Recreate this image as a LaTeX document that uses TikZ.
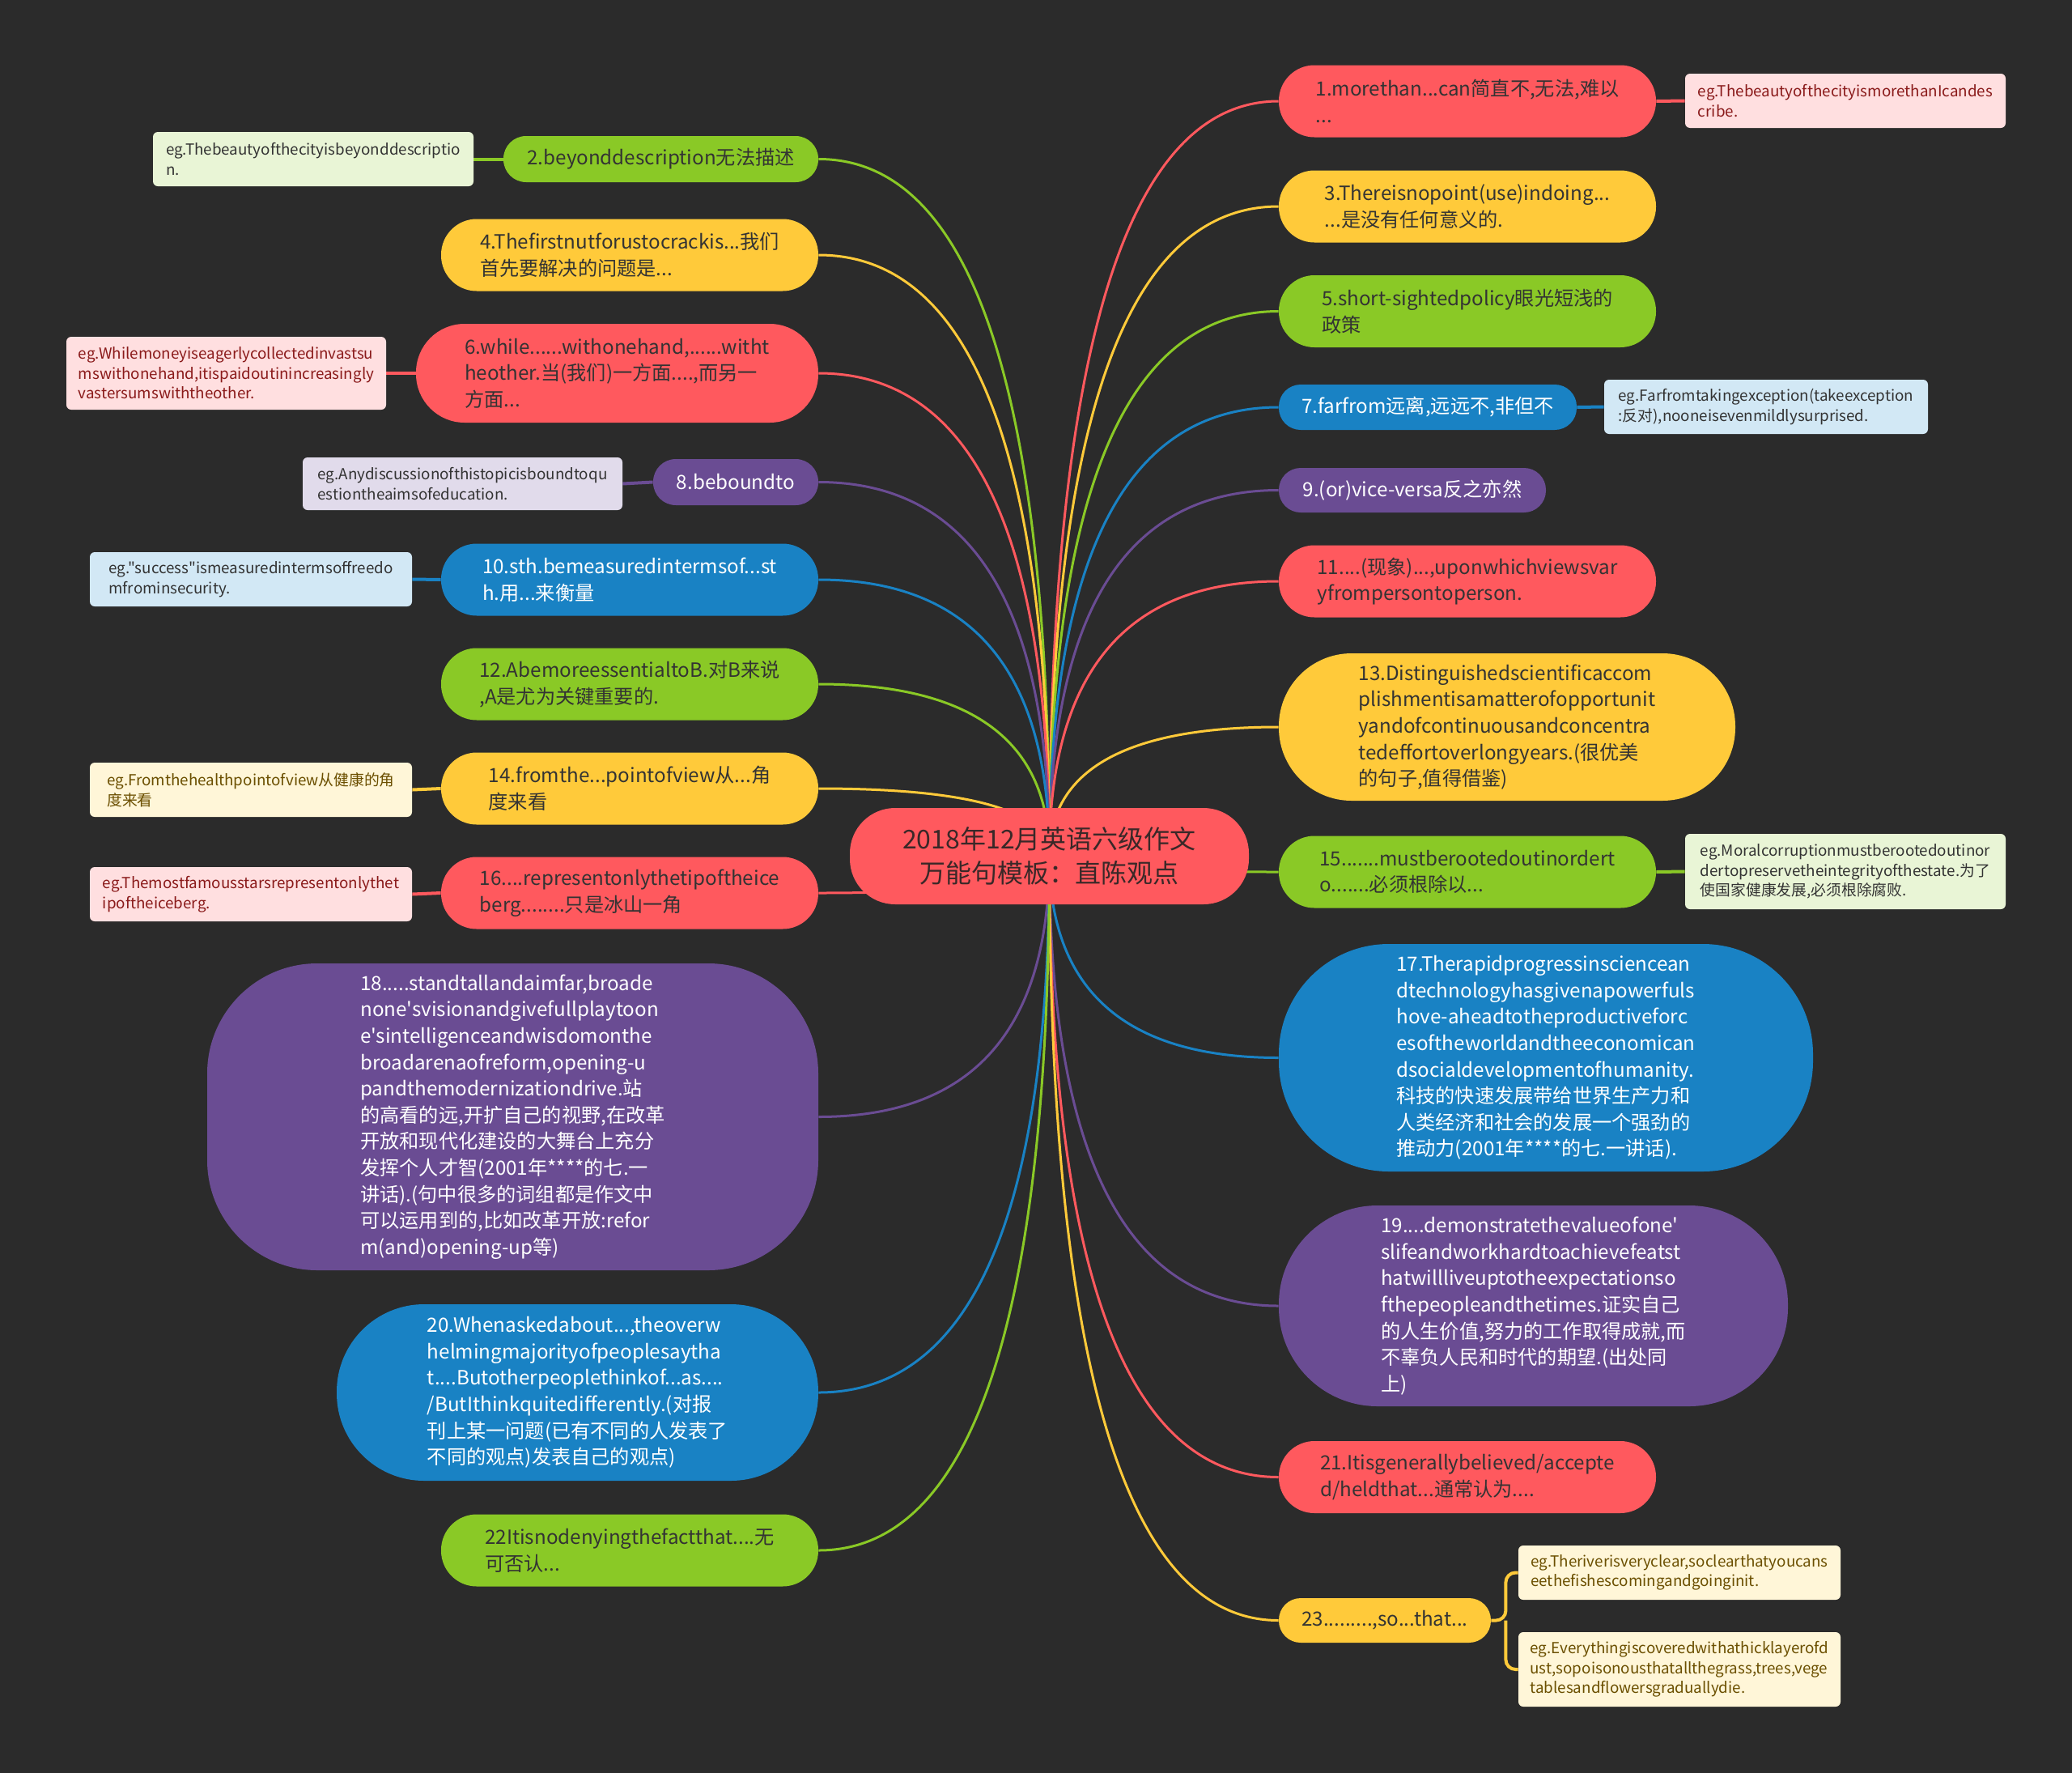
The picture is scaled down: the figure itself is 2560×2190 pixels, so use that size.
\documentclass[tikz,border=0pt]{standalone}
\usepackage{fontspec}
\newfontfamily\nf{Noto Sans CJK SC}
\usetikzlibrary{calc}
\pgfdeclarelayer{background}
\pgfsetlayers{background,main}
\definecolor{bg}{HTML}{2B2B2B}
\definecolor{cred}{HTML}{FF595E}
\definecolor{cyel}{HTML}{FFCA3A}
\definecolor{cgrn}{HTML}{8AC926}
\definecolor{cblu}{HTML}{1982C4}
\definecolor{cpur}{HTML}{6A4C93}
\definecolor{ered}{HTML}{FFDFE0}
\definecolor{egrn}{HTML}{E9F5D6}
\definecolor{eyel}{HTML}{FFF6D8}
\definecolor{eblu}{HTML}{D2E8F5}
\definecolor{epur}{HTML}{E1DBEB}
\definecolor{tdark}{HTML}{333333}
\definecolor{tctr}{HTML}{3A2828}
\definecolor{tred}{HTML}{8A1A1A}
\definecolor{tbrn}{HTML}{6B4F00}
\newcommand\mmlink[3]{%
  \coordinate (q) at (ctr.center |- #2.#3);
  \draw[link,#1] (ctr.center) .. controls ($(ctr.center)!0.667!(q)$) and ($(#2.#3)!0.667!(q)$) .. (#2.#3);}
\tikzset{
  mn/.style={inner sep=0pt, align=left, font=\nf\fontsize{12.1}{16.3}\selectfont},
  std/.style={mn, minimum width=233pt, minimum height=44.5pt, rounded corners=22pt},
  rn/.style={fill=cred, text=tdark},
  yn/.style={fill=cyel, text=tdark},
  gn/.style={fill=cgrn, text=tdark},
  bn/.style={fill=cblu, text=white},
  pn/.style={fill=cpur, text=white},
  egbox/.style={inner sep=0pt, align=left, rounded corners=3pt, minimum width=198pt, minimum height=33.5pt, font=\nf\fontsize{9.4}{12.3}\selectfont},
  epink/.style={egbox, fill=ered, text=tred},
  egreen/.style={egbox, fill=egrn, text=tdark},
  eyellow/.style={egbox, fill=eyel, text=tbrn},
  eblue/.style={egbox, fill=eblu, text=tdark},
  epurple/.style={egbox, fill=epur, text=tdark},
  link/.style={line width=1.5pt},
  eglink/.style={line width=2pt},
}
\begin{document}
\begin{tikzpicture}[x=0.5pt,y=-0.5pt]
\useasboundingbox (0,0) rectangle (2560,2190);
\begin{pgfonlayer}{background}
\fill[bg] (0,0) rectangle (2560,2190);
\end{pgfonlayer}

% central topic
\node[mn, align=center, fill=cred, text=tctr, minimum width=246.5pt, minimum height=59.5pt, rounded corners=28pt, font=\nf\fontsize{16}{21}\selectfont] (ctr) at (1296.5,1057.5) {2018年12月英语六级作文\\万能句模板：直陈观点};

% right side
\node[std,rn] (n1) at (1813,125) {1.morethan...can简直不,无法,难以\\...};
\node[std,yn] (n3) at (1813,255) {3.Thereisnopoint(use)indoing...\\...是没有任何意义的.};
\node[std,gn] (n5) at (1813,384.5) {5.short-sightedpolicy眼光短浅的\\政策};
\node[mn,bn,minimum width=184pt,minimum height=28pt,rounded corners=13.5pt] (n7) at (1764,503) {7.farfrom远离,远远不,非但不};
\node[mn,pn,minimum width=165pt,minimum height=27.5pt,rounded corners=13.5pt] (n9) at (1745,605.5) {9.(or)vice-versa反之亦然};
\node[std,rn] (n11) at (1813,718) {11....(现象)...,uponwhichviewsvar\\yfrompersontoperson.};
\node[mn,yn,minimum width=282pt,minimum height=91pt,rounded corners=45pt] (n13) at (1862,898) {13.Distinguishedscientificaccom\\plishmentisamatterofopportunit\\yandofcontinuousandconcentra\\tedeffortoverlongyears.(很优美\\的句子,值得借鉴)};
\node[std,gn] (n15) at (1813,1077) {15.......mustberootedoutinordert\\o.......必须根除以...};
\node[mn,bn,minimum width=330pt,minimum height=140.5pt,rounded corners=68pt] (n17) at (1910,1306.5) {17.Therapidprogressinsciencean\\dtechnologyhasgivenapowerfuls\\hove-aheadtotheproductiveforc\\esoftheworldandtheeconomican\\dsocialdevelopmentofhumanity.\\科技的快速发展带给世界生产力和\\人类经济和社会的发展一个强劲的\\推动力(2001年****的七.一讲话).};
\node[mn,pn,minimum width=314.5pt,minimum height=124pt,rounded corners=61pt] (n19) at (1894.5,1613) {19....demonstratethevalueofone'\\slifeandworkhardtoachievefeatst\\hatwillliveuptotheexpectationso\\fthepeopleandthetimes.证实自己\\的人生价值,努力的工作取得成就,而\\不辜负人民和时代的期望.(出处同\\上)};
\node[std,rn] (n21) at (1813,1824.5) {21.Itisgenerallybelieved/accepte\\d/heldthat...通常认为....};
\node[mn,yn,minimum width=131pt,minimum height=27.5pt,rounded corners=13.5pt] (n23) at (1711,2001.5) {23.........,so...that...};

\node[epink] (eg1) at (2280,124.5) {eg.ThebeautyofthecityismorethanIcandes\\cribe.};
\node[eblue,minimum width=200pt] (eg7) at (2182,502.5) {eg.Farfromtakingexception(takeexception\\:反对),nooneisevenmildlysurprised.};
\node[egreen,minimum height=46.5pt] (eg15) at (2280,1076.5) {eg.Moralcorruptionmustberootedoutinor\\dertopreservetheintegrityofthestate.为了\\使国家健康发展,必须根除腐败.};
\node[eyellow,minimum width=199pt] (eg23a) at (2075,1942.5) {eg.Theriverisveryclear,soclearthatyoucans\\eethefishescomingandgoinginit.};
\node[eyellow,minimum width=199pt,minimum height=46pt] (eg23b) at (2075,2062) {eg.Everythingiscoveredwithathicklayerofd\\ust,sopoisonousthatallthegrass,trees,vege\\tablesandflowersgraduallydie.};

% left side
\node[mn,gn,minimum width=194.5pt,minimum height=28.5pt,rounded corners=14pt] (n2) at (816.5,196.5) {2.beyonddescription无法描述};
\node[std,yn] (n4) at (778,315) {4.Thefirstnutforustocrackis...我们\\首先要解决的问题是...};
\node[mn,rn,minimum width=248.5pt,minimum height=61pt,rounded corners=30pt] (n6) at (762.5,461) {6.while......withonehand,......witht\\heother.当(我们)一方面....,而另一\\方面...};
\node[mn,pn,minimum width=102pt,minimum height=28.5pt,rounded corners=14pt] (n8) at (909,595.5) {8.beboundto};
\node[std,bn] (n10) at (778,716) {10.sth.bemeasuredintermsof...st\\h.用...来衡量};
\node[std,gn] (n12) at (778,845) {12.AbemoreessentialtoB.对B来说\\,A是尤为关键重要的.};
\node[std,yn] (n14) at (778,974) {14.fromthe...pointofview从...角\\度来看};
\node[std,rn] (n16) at (778,1103) {16....representonlythetipoftheice\\berg........只是冰山一角};
\node[mn,pn,minimum width=377.5pt,minimum height=189.5pt,rounded corners=68pt] (n18) at (633.5,1379.5) {18.....standtallandaimfar,broade\\none'svisionandgivefullplaytoon\\e'sintelligenceandwisdomonthe\\broadarenaofreform,opening-u\\pandthemodernizationdrive.站\\的高看的远,开扩自己的视野,在改革\\开放和现代化建设的大舞台上充分\\发挥个人才智(2001年****的七.一\\讲话).(句中很多的词组都是作文中\\可以运用到的,比如改革开放:refor\\m(and)opening-up等)};
\node[mn,bn,minimum width=297.5pt,minimum height=109pt,rounded corners=54pt] (n20) at (713.5,1720) {20.Whenaskedabout...,theoverw\\helmingmajorityofpeoplesaytha\\t....Butotherpeoplethinkof...as....\\/ButIthinkquitedifferently.(对报\\刊上某一问题(已有不同的人发表了\\不同的观点)发表自己的观点)};
\node[std,gn] (n22) at (778,1915) {22Itisnodenyingthefactthat....无\\可否认...};

\node[egreen] (eg2) at (387,196.5) {eg.Thebeautyofthecityisbeyonddescriptio\\n.};
\node[epink,minimum width=197.5pt,minimum height=45pt] (eg6) at (279.5,461) {eg.Whilemoneyiseagerlycollectedinvastsu\\mswithonehand,itispaidoutinincreasingly\\vastersumswiththeother.};
\node[epurple,minimum width=197.5pt,minimum height=32.5pt] (eg8) at (571.5,597.5) {eg.Anydiscussionofthistopicisboundtoqu\\estiontheaimsofeducation.};
\node[eblue,minimum width=199pt] (eg10) at (310,715.5) {eg."success"ismeasuredintermsoffreedo\\mfrominsecurity.};
\node[eyellow,minimum width=199pt] (eg14) at (310,975.5) {eg.Fromthehealthpointofview从健康的角\\度来看};
\node[epink,minimum width=199pt] (eg16) at (310,1104.5) {eg.Themostfamousstarsrepresentonlythet\\ipoftheiceberg.};

\coordinate (b23) at ($(n23.east)+(18,0)$);

\begin{pgfonlayer}{background}
\mmlink{cred}{n1}{west}
\mmlink{cyel}{n3}{west}
\mmlink{cgrn}{n5}{west}
\mmlink{cblu}{n7}{west}
\mmlink{cpur}{n9}{west}
\mmlink{cred}{n11}{west}
\mmlink{cyel}{n13}{west}
\mmlink{cgrn}{n15}{west}
\mmlink{cblu}{n17}{west}
\mmlink{cpur}{n19}{west}
\mmlink{cred}{n21}{west}
\mmlink{cyel}{n23}{west}
\mmlink{cgrn}{n2}{east}
\mmlink{cyel}{n4}{east}
\mmlink{cred}{n6}{east}
\mmlink{cpur}{n8}{east}
\mmlink{cblu}{n10}{east}
\mmlink{cgrn}{n12}{east}
\mmlink{cyel}{n14}{east}
\mmlink{cred}{n16}{east}
\mmlink{cpur}{n18}{east}
\mmlink{cblu}{n20}{east}
\mmlink{cgrn}{n22}{east}
\draw[eglink,cred] (n1.east) -- (eg1.west);
\draw[eglink,cblu] (n7.east) -- (eg7.west);
\draw[eglink,cgrn] (n15.east) -- (eg15.west);
\draw[eglink,cgrn] (n2.west) -- (eg2.east);
\draw[eglink,cred] (n6.west) -- (eg6.east);
\draw[eglink,cpur] (n8.west) -- (eg8.east);
\draw[eglink,cblu] (n10.west) -- (eg10.east);
\draw[eglink,cyel] (n14.west) -- (eg14.east);
\draw[eglink,cred] (n16.west) -- (eg16.east);
\draw[eglink,cyel,rounded corners=6pt] (n23.east) -- (b23) |- (eg23a.west);
\draw[eglink,cyel,rounded corners=6pt] (b23) |- (eg23b.west);
\end{pgfonlayer}
\end{tikzpicture}
\end{document}
